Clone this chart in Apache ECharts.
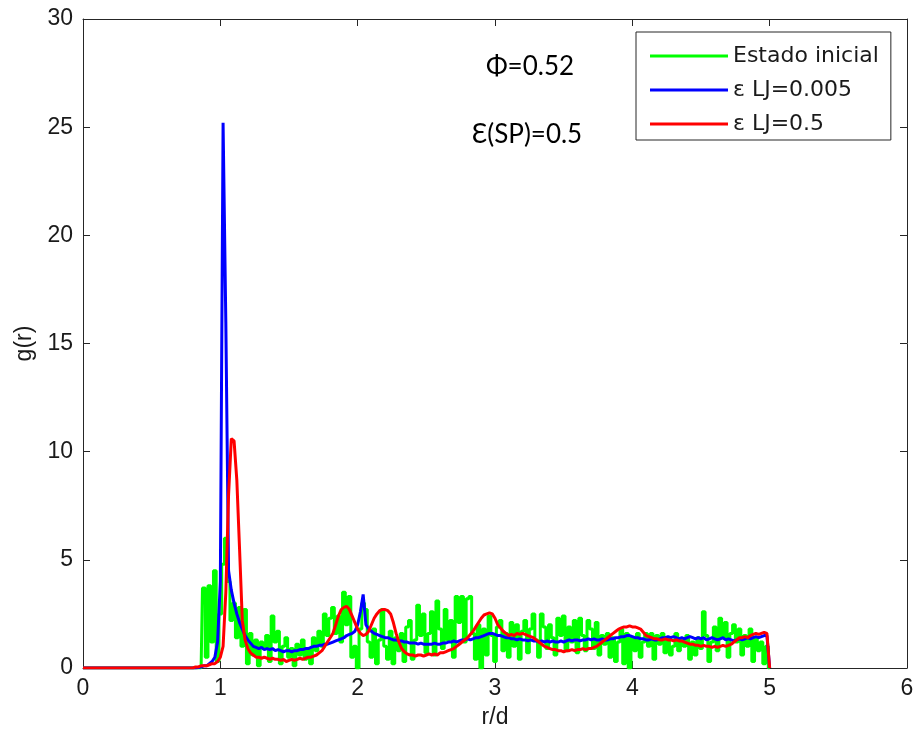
<!DOCTYPE html>
<html>
<head>
<meta charset="utf-8">
<script src="https://cdn.jsdelivr.net/npm/echarts@6/dist/echarts.min.js"></script>
<style>
  html, body { margin: 0; padding: 0; background: #fff; }
  #chart { width: 917px; height: 738px; }
</style>
</head>
<body>
<div id="chart"></div>
<script>
// sampled r/d positions: R0, R0+DR, ... (one value per 0.02 step up to 5.00)
const R0 = 0.8
const DR = 0.02

const estadoInicial = [
  0, 0, 0, 0, 3.7, 0.5, 3.8, 1.2, 4.5, 0.3,
  2.5, 4.8, 6.0, 4.0, 2.2, 3.0, 1.4, 2.8, 1.0, 2.7,
  0.2, 1.6, 0.6, 1.3, 0.1, 1.2, 0.9, 1.5, 0.3, 2.4,
  1.2, 1.7, 0.2, 1.0, 1.4, 0.5, 0.9, 0.1, 1.1, 0.6,
  1.3, 0.4, 0.9, 0.2, 1.4, 0.8, 1.7, 1.0, 2.5, 1.5,
  2.3, 2.8, 1.6, 2.4, 1.2, 3.5, 2.0, 3.3, 0.5, 1.0,
  0.0, 1.8, 3.0, 2.7, 1.2, 0.5, 1.8, 0.2, 1.3, 2.7,
  1.0, 0.4, 1.7, 0.2, 1.4, 0.8, 1.6, 0.3, 1.9, 2.2,
  0.4, 1.3, 2.9, 1.5, 2.5, 0.7, 1.6, 2.6, 0.6, 3.1,
  1.8, 0.9, 2.7, 1.3, 2.2, 0.5, 3.3, 2.1, 3.3, 1.2,
  3.2, 3.3, 1.6, 0.4, 2.0, 0.0, 1.8, 0.6, 2.4, 1.5,
  0.3, 1.9, 2.2, 0.8, 1.6, 0.5, 2.1, 1.0, 2.0, 0.4,
  1.7, 2.2, 0.7, 1.8, 2.5, 1.3, 0.5, 2.5, 1.9, 0.9,
  2.0, 1.4, 0.6, 2.3, 1.5, 2.4, 0.8, 1.9, 1.2, 2.2,
  0.7, 2.3, 1.5, 0.8, 2.2, 1.8, 0.9, 2.1, 0.6, 1.5,
  1.1, 1.6, 0.5, 1.4, 0.3, 1.2, 1.8, 0.2, 1.6, 0.0,
  1.4, 0.8, 1.6, 0.5, 1.2, 1.6, 1.0, 1.6, 0.4, 1.5,
  1.1, 1.6, 0.7, 1.4, 0.6, 1.0, 1.6, 0.8, 1.3, 1.0,
  1.5, 0.4, 1.2, 0.6, 1.4, 0.9, 2.6, 1.5, 0.3, 1.2,
  1.9, 0.8, 2.3, 1.4, 2.1, 0.5, 1.6, 2.0, 1.2, 1.8,
  0.6, 1.5, 1.0, 1.8, 0.3, 1.4, 0.8, 1.2, 0.2, 1.0,
  0
]

const lj0005 = [
  0, 0, 0.02, 0.05, 0.1, 0.1, 0.2, 0.3, 0.5, 1.2,
  4.0, 25.2, 16.0, 4.5, 3.6, 3.0, 2.5, 2.1, 1.8, 1.5,
  1.3, 1.15, 1.0, 0.95, 0.9, 0.95, 0.85, 0.9, 0.85, 0.9,
  0.8, 0.85, 0.8, 0.75, 0.8, 0.8, 0.75, 0.8, 0.8, 0.85,
  0.85, 0.9, 0.9, 0.95, 1.0, 1.0, 1.05, 1.05, 1.1, 1.1,
  1.15, 1.2, 1.25, 1.3, 1.35, 1.4, 1.5, 1.55, 1.6, 1.7,
  2.0, 2.6, 3.4, 2.0, 1.8, 1.7, 1.6, 1.55, 1.5, 1.45,
  1.4, 1.4, 1.35, 1.3, 1.3, 1.25, 1.25, 1.2, 1.2, 1.15,
  1.15, 1.15, 1.1, 1.15, 1.1, 1.1, 1.1, 1.1, 1.15, 1.1,
  1.1, 1.15, 1.15, 1.2, 1.2, 1.25, 1.2, 1.25, 1.3, 1.3,
  1.35, 1.3, 1.35, 1.4, 1.4, 1.45, 1.5, 1.55, 1.6, 1.6,
  1.55, 1.5, 1.5, 1.45, 1.4, 1.4, 1.35, 1.35, 1.3, 1.35,
  1.3, 1.3, 1.25, 1.3, 1.25, 1.25, 1.2, 1.25, 1.2, 1.25,
  1.2, 1.25, 1.2, 1.2, 1.25, 1.2, 1.25, 1.3, 1.25, 1.3,
  1.3, 1.25, 1.3, 1.3, 1.35, 1.3, 1.35, 1.3, 1.3, 1.35,
  1.3, 1.3, 1.35, 1.35, 1.4, 1.4, 1.45, 1.45, 1.5, 1.5,
  1.45, 1.4, 1.4, 1.35, 1.35, 1.3, 1.3, 1.35, 1.3, 1.3,
  1.35, 1.4, 1.4, 1.45, 1.4, 1.45, 1.4, 1.35, 1.4, 1.35,
  1.4, 1.45, 1.4, 1.35, 1.4, 1.35, 1.4, 1.3, 1.35, 1.4,
  1.35, 1.3, 1.35, 1.4, 1.3, 1.35, 1.3, 1.25, 1.3, 1.35,
  1.3, 1.35, 1.4, 1.35, 1.4, 1.45, 1.4, 1.45, 1.5, 1.5,
  0
]

const lj05 = [
  0, 0.05, 0.05, 0.1, 0.1, 0.1, 0.15, 0.2, 0.2, 0.3,
  0.5, 1.0, 3.5, 8.0, 10.6, 10.5, 8.7, 5.5, 2.2, 1.3,
  0.9, 0.7, 0.6, 0.5, 0.5, 0.45, 0.5, 0.45, 0.4, 0.45,
  0.4, 0.4, 0.35, 0.4, 0.3, 0.35, 0.4, 0.35, 0.4, 0.45,
  0.4, 0.45, 0.5, 0.5, 0.55, 0.6, 0.7, 0.8, 1.0, 1.2,
  1.4, 1.6, 2.0, 2.4, 2.7, 2.8, 2.85, 2.7, 2.4, 2.1,
  1.8, 1.6, 1.5, 1.55, 1.7, 2.0, 2.3, 2.5, 2.65, 2.7,
  2.7, 2.65, 2.5, 2.1, 1.6, 1.2, 0.9, 0.75, 0.65, 0.6,
  0.6, 0.55, 0.6, 0.6, 0.55, 0.6, 0.65, 0.6, 0.65, 0.6,
  0.7, 0.7, 0.75, 0.8, 0.85, 0.9, 1.0, 1.1, 1.2, 1.3,
  1.4, 1.55, 1.7, 1.9, 2.1, 2.3, 2.45, 2.5, 2.55, 2.5,
  2.3, 2.0, 1.85, 1.7, 1.6, 1.5, 1.55, 1.5, 1.6, 1.55,
  1.6, 1.55, 1.5, 1.45, 1.4, 1.3, 1.2, 1.1, 1.0, 0.95,
  0.9, 0.85, 0.85, 0.8, 0.8, 0.75, 0.8, 0.8, 0.85, 0.8,
  0.85, 0.85, 0.9, 0.85, 0.9, 0.9, 0.95, 1.0, 1.1, 1.2,
  1.3, 1.4, 1.5, 1.6, 1.7, 1.8, 1.85, 1.9, 1.9, 1.95,
  1.9, 1.9, 1.85, 1.8, 1.65, 1.5, 1.45, 1.4, 1.35, 1.35,
  1.3, 1.3, 1.35, 1.3, 1.3, 1.25, 1.3, 1.25, 1.25, 1.2,
  1.15, 1.1, 1.1, 1.05, 1.05, 1.0, 1.05, 1.0, 1.0, 0.95,
  1.0, 0.95, 1.0, 1.05, 1.0, 1.05, 1.1, 1.2, 1.3, 1.4,
  1.4, 1.45, 1.4, 1.5, 1.55, 1.6, 1.55, 1.6, 1.65, 1.6,
  0
]

const seriesNames = ['Estado inicial', 'ε LJ=0.005', 'ε LJ=0.5']
const xTicks = [0, 1, 2, 3, 4, 5, 6]
const yTicks = [0, 5, 10, 15, 20, 25, 30]

const axisColor = '#262626'
const labelFont = { fontFamily: 'Liberation Sans', fontSize: 23, color: '#1a1a1a' }

function toPairs(vals) {
  // g(r) = 0 from r = 0 up to the first sample
  const out = [[0, 0]]
  vals.forEach((v, i) => {
    out.push([+(R0 + i * DR).toFixed(2), v])
  })
  return out
}

function lineSeries(name, vals, color, extra) {
  return Object.assign({
    name: name,
    type: 'line',
    data: toPairs(vals),
    showSymbol: false,
    symbol: 'none',
    xAxisIndex: 0,
    yAxisIndex: 0,
    lineStyle: { color: color, width: 3 },
    itemStyle: { color: color },
    emphasis: { disabled: true }
  }, extra || {})
}

function frameAxis(pos) {
  return {
    type: 'value',
    position: pos,
    axisLine: { show: true, onZero: false, lineStyle: { color: axisColor, width: 1 } },
    axisTick: { show: true, inside: true, length: 7, lineStyle: { color: axisColor } },
    axisLabel: { show: false },
    splitLine: { show: false }
  }
}

const chart = echarts.init(document.getElementById('chart'))

chart.setOption({
  animation: false,
  backgroundColor: '#fff',
  grid: {
    left: 83,
    right: 10,
    top: 19,
    bottom: 70,
    show: false
  },
  legend: {
    orient: 'vertical',
    left: 636,
    top: 32,
    data: seriesNames,
    icon: 'rect',
    itemWidth: 78,
    itemHeight: 3,
    itemGap: 12,
    itemTextGap: 8,
    padding: [13, 12, 5, 14],
    backgroundColor: '#fff',
    borderColor: axisColor,
    borderWidth: 1,
    borderRadius: 0,
    textStyle: { fontFamily: 'DejaVu Sans', fontSize: 22, lineHeight: 22, color: '#1a1a1a' }
  },
  xAxis: [
    Object.assign(frameAxis('bottom'), {
      min: xTicks[0],
      max: xTicks[xTicks.length - 1],
      interval: 1,
      name: 'r/d',
      nameLocation: 'middle',
      nameGap: 38,
      nameTextStyle: labelFont,
      axisLabel: Object.assign({ show: true, margin: 9 }, labelFont)
    }),
    Object.assign(frameAxis('top'), {
      min: xTicks[0],
      max: xTicks[xTicks.length - 1],
      interval: 1
    })
  ],
  yAxis: [
    Object.assign(frameAxis('left'), {
      min: yTicks[0],
      max: yTicks[yTicks.length - 1],
      interval: 5,
      name: 'g(r)',
      nameLocation: 'middle',
      nameGap: 40,
      nameTextStyle: labelFont,
      axisLabel: Object.assign({ show: true, margin: 10 }, labelFont)
    }),
    Object.assign(frameAxis('right'), {
      min: yTicks[0],
      max: yTicks[yTicks.length - 1],
      interval: 5
    })
  ],
  graphic: [
    {
      type: 'text',
      style: {
        text: 'Φ=0.52',
        x: 530,
        y: 67,
        align: 'center',
        verticalAlign: 'middle',
        font: '26px Lato',
        fill: '#000'
      }
    },
    {
      type: 'text',
      style: {
        text: 'Ɛ(SP)=0.5',
        x: 527,
        y: 135,
        align: 'center',
        verticalAlign: 'middle',
        font: '26px Lato',
        fill: '#000'
      }
    }
  ],
  series: [
    lineSeries(seriesNames[0], estadoInicial, '#00ff00', { step: 'middle' }),
    lineSeries(seriesNames[1], lj0005, '#0000ff'),
    lineSeries(seriesNames[2], lj05, '#ff0000')
  ]
})
</script>
</body>
</html>
